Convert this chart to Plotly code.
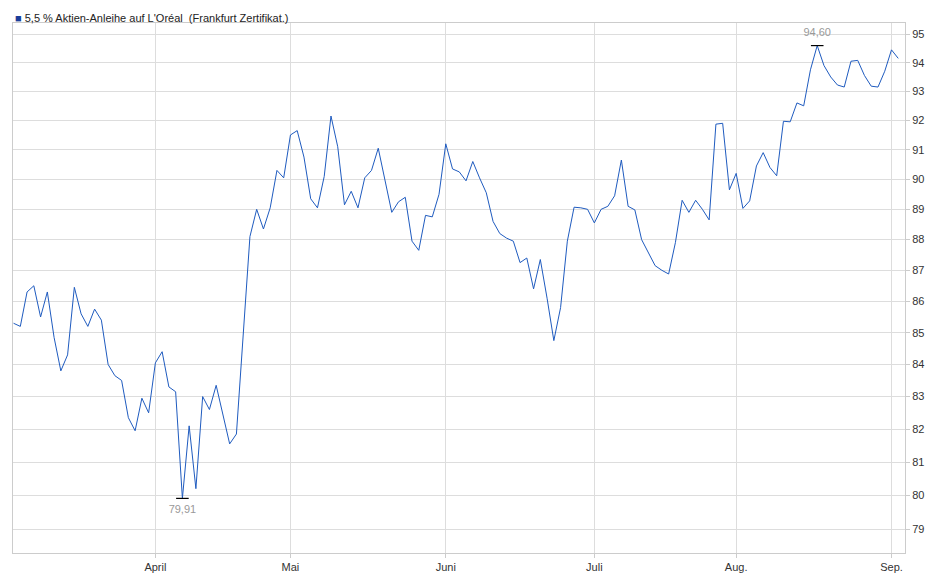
import math
import pandas as pd
import plotly.graph_objects as go

values = [85.3,85.2,86.3,86.5,85.5,86.3,84.85,83.8,84.3,86.45,
          85.6,85.2,85.75,85.4,84.0,83.65,83.5,82.35,81.95,82.95,
          82.5,84.05,84.4,83.3,83.15,79.91,82.1,80.2,83.0,82.6,
          83.35,82.4,81.55,81.85,
          84.8,88.1,89.0,88.35,89.05,90.3,90.05,91.5,91.65,90.75,
          89.35,89.05,90.1,92.15,91.1,89.15,89.6,89.05,90.05,90.3,
          91.05,90.0,88.9,89.25,89.4,87.95,87.65,88.8,88.75,89.5,
          91.2,90.35,90.25,89.95,90.6,90.05,89.55,88.6,88.2,88.05,
          87.95,87.25,87.4,86.4,87.35,86.1,84.75,85.8,87.95,89.07,
          89.05,89.0,88.55,89.0,89.1,89.45,90.65,89.1,88.98,88.0,
          87.55,87.15,87.0,86.88,87.9,89.3,88.9,89.3,89.0,88.65,
          91.87,91.9,89.65,90.2,89.03,89.28,90.45,90.9,90.4,90.12,
          91.97,91.95,92.6,92.5,93.75,94.6,93.9,93.5,93.22,93.15,
          94.05,94.08,93.55,93.18,93.15,93.7,94.45,94.15]
dates = pd.bdate_range("2023-03-03", periods=len(values))
tick_dates = ["2023-04-03", "2023-05-01", "2023-06-01", "2023-07-03", "2023-08-01", "2023-09-01"]
tick_labels = ["April", "Mai", "Juni", "Juli", "Aug.", "Sep."]
y_ticks = list(range(79, 96))

imin = values.index(min(values))
imax = values.index(max(values))

fig = go.Figure()
fig.add_trace(go.Scatter(x=dates, y=values, mode="lines",
                         line=dict(color="#1f5bbf", width=1), hoverinfo="skip"))
fig.add_trace(go.Scatter(x=[dates[imin], dates[imax]], y=[values[imin], values[imax]],
                         mode="markers+text",
                         marker=dict(symbol="line-ew", size=9, line=dict(color="black", width=1.2)),
                         text=[f"{values[imin]:.2f}".replace(".", ","), f"{values[imax]:.2f}".replace(".", ",")],
                         textposition=["bottom center", "top center"],
                         textfont=dict(color="#999999", size=11)))

fig.update_layout(
    width=940, height=579, showlegend=False,
    paper_bgcolor="white", plot_bgcolor="white",
    margin=dict(l=5, r=43, t=15, b=34, autoexpand=False),
    font=dict(family="Liberation Sans, Arial", size=11, color="#333333"),
    annotations=[dict(xref="paper", yref="paper", x=0, y=1, yanchor="bottom", xanchor="left",
                      yshift=-3, showarrow=False,
                      text="<span style='color:#1a3d9a'>■</span> 5,5 % Aktien-Anleihe auf L'Oréal  (Frankfurt Zertifikat.)",
                      font=dict(size=11, color="#222222"))],
)
fig.update_xaxes(rangebreaks=[dict(bounds=["sat", "mon"])], automargin=False,
                 range=[dates[0] - pd.Timedelta(hours=2), dates[-1] + pd.Timedelta(days=1)],
                 tickvals=tick_dates, ticktext=tick_labels,
                 showgrid=True, gridcolor="#dddddd", gridwidth=1,
                 showline=True, linecolor="#cccccc", mirror=True,
                 ticks="outside", ticklen=4, tickcolor="#cccccc")
fig.update_yaxes(type="log", side="right", automargin=False,
                 tickvals=y_ticks, ticktext=[str(v) for v in y_ticks],
                 range=[math.log10(78.3), math.log10(95.4)],
                 showgrid=True, gridcolor="#dddddd", gridwidth=1,
                 showline=True, linecolor="#cccccc", mirror=True,
                 ticks="outside", ticklen=4, tickcolor="#cccccc")
fig.write_html("out.html")
